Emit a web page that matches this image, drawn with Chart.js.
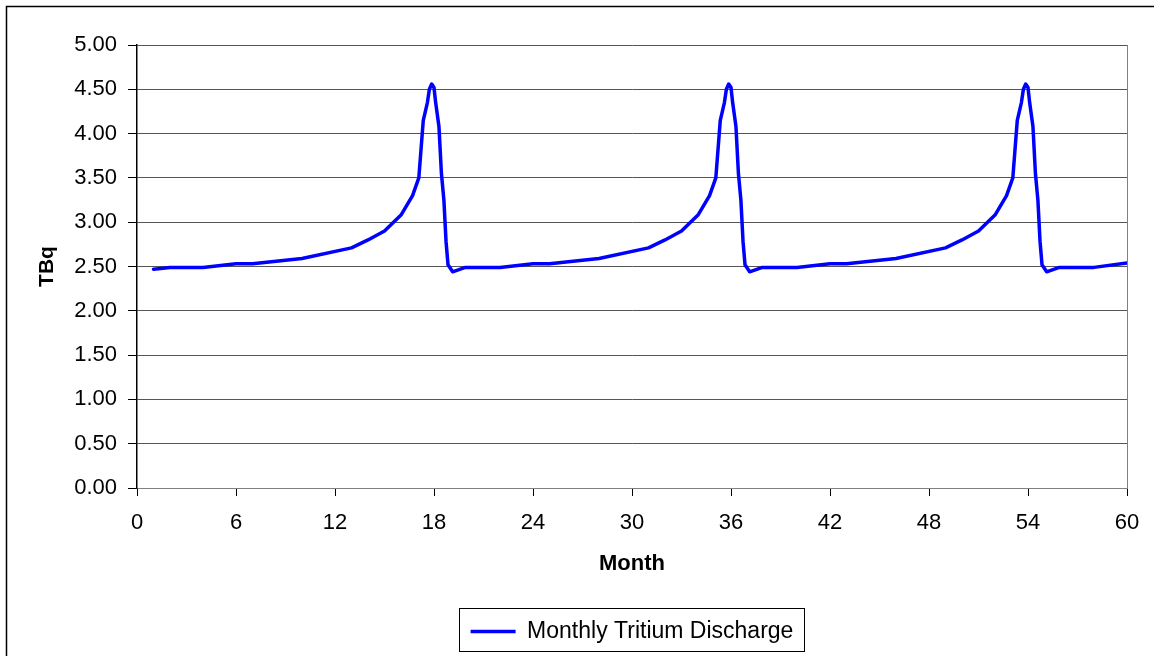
<!DOCTYPE html>
<html>
<head>
<meta charset="utf-8">
<title>Monthly Tritium Discharge</title>
<script src="https://cdn.jsdelivr.net/npm/chart.js@4.4.1/dist/chart.umd.min.js"></script>
<style>
  html, body { margin: 0; padding: 0; background: #fff; }
  #wrap { width: 1154px; height: 656px; }
</style>
</head>
<body>
<div id="wrap"><canvas id="tritiumChart" width="1154" height="656"></canvas></div>
<script>
// month numbers (fractional where the refuelling peaks are sampled more finely)
const months = [
  1, 2, 4, 6, 7, 10, 13, 14, 15, 16, 16.7, 17.08, 17.35, 17.6, 17.72, 17.86,
  18.0, 18.1, 18.3, 18.45, 18.6, 18.73, 18.85, 19.13, 19.9,
  22, 24, 25, 28, 31, 32, 33, 34, 34.7, 35.08, 35.35, 35.6, 35.72, 35.86,
  36.0, 36.1, 36.3, 36.45, 36.6, 36.73, 36.85, 37.13, 37.9,
  40, 42, 43, 46, 49, 50, 51, 52, 52.7, 53.08, 53.35, 53.6, 53.72, 53.86,
  54.0, 54.1, 54.3, 54.45, 54.6, 54.73, 54.85, 55.13, 55.9, 58, 60
];

// discharge in TBq for each month above
const tbq = [
  2.47, 2.49, 2.49, 2.53, 2.53, 2.59, 2.71, 2.80, 2.90, 3.08, 3.30, 3.50, 4.15, 4.35, 4.50, 4.56,
  4.52, 4.35, 4.08, 3.55, 3.25, 2.78, 2.52, 2.44, 2.49,
  2.49, 2.53, 2.53, 2.59, 2.71, 2.80, 2.90, 3.08, 3.30, 3.50, 4.15, 4.35, 4.50, 4.56,
  4.52, 4.35, 4.08, 3.55, 3.25, 2.78, 2.52, 2.44, 2.49,
  2.49, 2.53, 2.53, 2.59, 2.71, 2.80, 2.90, 3.08, 3.30, 3.50, 4.15, 4.35, 4.50, 4.56,
  4.52, 4.35, 4.08, 3.55, 3.25, 2.78, 2.52, 2.44, 2.49, 2.49, 2.54
];

const seriesName = "Monthly Tritium Discharge";
const xMax = 60, xStep = 6;
const yMax = 5, yStep = 0.5;

const font = "'Liberation Sans', Arial, sans-serif";

const points = months.map((m, i) => ({ x: m, y: tbq[i] }));

// white background, outer frame, plot border and legend frame
const decorations = {
  id: "decorations",
  beforeDraw(chart) {
    const ctx = chart.ctx;
    ctx.save();
    ctx.fillStyle = "#fff";
    ctx.fillRect(0, 0, chart.width, chart.height);
    ctx.strokeStyle = "#000";
    ctx.lineWidth = 1.5;
    ctx.strokeRect(6.5, 6.5, chart.width + 20, chart.height + 20);
    ctx.restore();
  },
  beforeDatasetsDraw(chart) {
    const a = chart.chartArea;
    const ctx = chart.ctx;
    ctx.save();
    ctx.strokeStyle = "#808080";
    ctx.lineWidth = 1;
    ctx.beginPath();
    ctx.moveTo(Math.round(a.right) + 0.5, a.top);
    ctx.lineTo(Math.round(a.right) + 0.5, a.bottom);
    ctx.stroke();
    ctx.restore();
  },
  afterDraw(chart) {
    const hit = chart.legend.legendHitBoxes[0];
    if (!hit) return;
    const ctx = chart.ctx;
    ctx.save();
    ctx.strokeStyle = "#000";
    ctx.lineWidth = 1;
    const l = Math.round(hit.left - 12) + 0.5;
    const t = Math.round(hit.top - 12) + 0.5;
    const r = Math.round(hit.left + hit.width + 11) + 0.5;
    const b = Math.round(hit.top + hit.height + 8) + 0.5;
    ctx.strokeRect(l, t, r - l, b - t);
    ctx.restore();
  }
};

new Chart(document.getElementById("tritiumChart"), {
  type: "scatter",
  data: {
    datasets: [{
      label: seriesName,
      data: points,
      showLine: true,
      borderColor: "#0000ff",
      backgroundColor: "#0000ff",
      borderWidth: 3.5,
      borderJoinStyle: "round",
      borderCapStyle: "round",
      tension: 0,
      pointRadius: 0,
      pointHoverRadius: 0
    }]
  },
  options: {
    responsive: false,
    animation: false,
    layout: { padding: { left: 0, top: 45, right: 27, bottom: 3 } },
    plugins: {
      tooltip: { enabled: false },
      legend: {
        position: "bottom",
        fullSize: false,
        labels: {
          usePointStyle: true,
          pointStyle: "line",
          pointStyleWidth: 45,
          padding: 5,
          color: "#000",
          font: { family: font, size: 23 }
        }
      }
    },
    scales: {
      x: {
        type: "linear",
        min: 0,
        max: xMax,
        afterFit(scale) { scale.height = 127; },
        ticks: {
          stepSize: xStep,
          padding: 14,
          color: "#000",
          font: { family: font, size: 22 }
        },
        grid: { drawOnChartArea: false, tickLength: 8, color: "#000" },
        border: { color: "#808080", width: 1 },
        title: {
          display: true,
          text: "Month",
          color: "#000",
          font: { family: font, size: 22, weight: "bold" },
          padding: { top: 0, bottom: 38 }
        }
      },
      y: {
        min: 0,
        max: yMax,
        afterFit(scale) { scale.width = 137; },
        ticks: {
          stepSize: yStep,
          padding: 11,
          color: "#000",
          font: { family: font, size: 22 },
          callback: v => v.toFixed(2)
        },
        grid: { color: "#555", tickLength: 9, tickColor: "#000" },
        border: { color: "#000", width: 1.5 },
        title: {
          display: true,
          text: "TBq",
          color: "#000",
          font: { family: font, size: 21, weight: "bold" },
          padding: { top: 35, bottom: 0 }
        }
      }
    }
  },
  plugins: [decorations]
});
</script>
</body>
</html>
